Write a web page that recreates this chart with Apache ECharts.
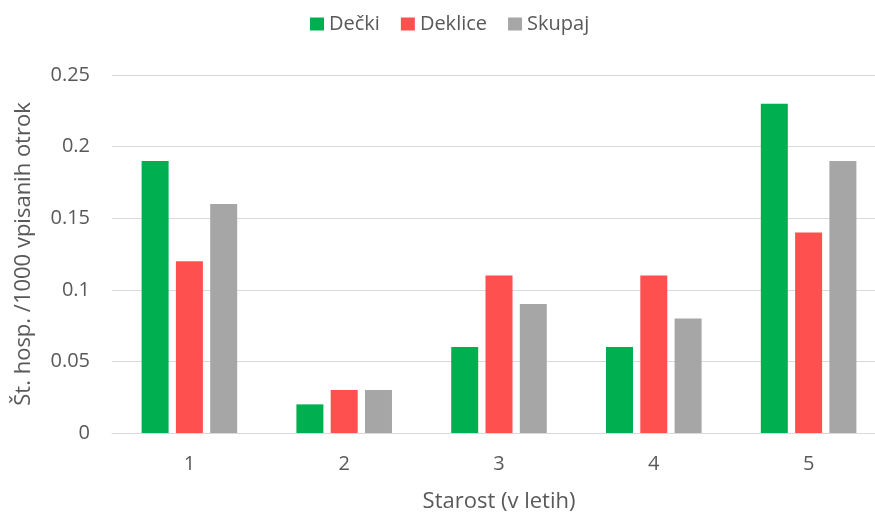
<!DOCTYPE html>
<html>
<head>
<meta charset="utf-8">
<script src="https://cdn.jsdelivr.net/npm/echarts@6/dist/echarts.min.js"></script>
<style>
  html, body { margin: 0; padding: 0; background: #fff; overflow: hidden; width: 875px; height: 519px; }
</style>
</head>
<body>
<!-- chart is a bit wider than the window: the original is cropped on the right -->
<div id="chart" style="width: 886px; height: 519px"></div>
<script>
const categories = ['1', '2', '3', '4', '5']
const decki = [0.19, 0.02, 0.06, 0.06, 0.23]
const deklice = [0.12, 0.03, 0.11, 0.11, 0.14]
const skupaj = [0.16, 0.03, 0.09, 0.08, 0.19]

const textColor = '#595959'
const font = 'Open Sans'

const chart = echarts.init(document.getElementById('chart'))

const option = {
  animation: false,
  textStyle: { fontFamily: font, color: textColor },
  legend: {
    top: 9,
    left: 305,
    itemWidth: 14,
    itemHeight: 13,
    itemGap: 21,
    icon: 'rect',
    textStyle: { fontSize: 20, color: textColor, fontFamily: font }
  },
  grid: {
    left: 112,
    right: 0,
    top: 75,
    bottom: 86
  },
  xAxis: {
    type: 'category',
    data: categories,
    name: 'Starost (v letih)',
    nameLocation: 'middle',
    nameGap: 58,
    nameTextStyle: { fontSize: 22, color: textColor, fontFamily: font },
    axisTick: { show: false },
    axisLine: { lineStyle: { color: '#D9D9D9', width: 1 } },
    axisLabel: { fontSize: 20, color: textColor, margin: 21 }
  },
  yAxis: {
    type: 'value',
    min: 0,
    max: 0.25,
    interval: 0.05,
    name: 'Št. hosp. /1000 vpisanih otrok',
    nameLocation: 'middle',
    nameGap: 77,
    nameTextStyle: { fontSize: 22, color: textColor, fontFamily: font },
    axisLabel: {
      fontSize: 20,
      color: textColor,
      margin: 22,
      formatter: v => String(Math.round(v * 100) / 100)
    },
    splitLine: { lineStyle: { color: '#D9D9D9', width: 1 } }
  },
  series: [
    {
      name: 'Dečki',
      type: 'bar',
      data: decki,
      itemStyle: { color: '#00B050' },
      barWidth: 27,
      barGap: '27%'
    },
    {
      name: 'Deklice',
      type: 'bar',
      data: deklice,
      itemStyle: { color: '#FF5050' },
      barWidth: 27,
      barGap: '27%'
    },
    {
      name: 'Skupaj',
      type: 'bar',
      data: skupaj,
      itemStyle: { color: '#A6A6A6' },
      barWidth: 27,
      barGap: '27%'
    }
  ]
}

chart.setOption(option)
</script>
</body>
</html>
